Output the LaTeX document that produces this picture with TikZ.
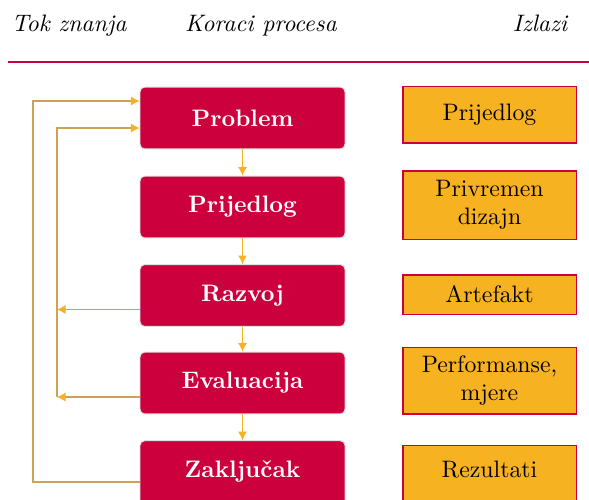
\documentclass[tikz,border=0pt]{standalone}
\usetikzlibrary{arrows.meta,calc}
\definecolor{krimson}{RGB}{204,0,61}
\definecolor{zlatna}{RGB}{246,178,33}
\definecolor{smeda}{RGB}{205,162,80}
\tikzset{
	korak/.style={rectangle,rounded corners=2pt,draw=black!12,fill=krimson,text=white,font=\bfseries,minimum width=86.1pt,minimum height=26pt,inner sep=0pt},
	izlaz/.style={rectangle,draw=krimson,line width=0.45pt,fill=zlatna,text=black,align=center,minimum width=72.7pt,inner sep=0pt},
	tok/.style={draw=zlatna,line width=0.5pt,-{Latex[length=3.6pt,width=3.8pt]}},
	nazad/.style={draw=smeda,line width=0.45pt,-{Latex[length=3.6pt,width=3.8pt,color=zlatna]}},
	naslov/.style={anchor=base,font=\itshape}
}
\begin{document}
\begin{tikzpicture}[x=0.42pt,y=-0.42pt]
	\useasboundingbox (0,0) rectangle (589,499);
	% zaglavlje
	\node[naslov] (hTok) at (69,31) {Tok znanja};
	\node[naslov] (hKoraci) at (261,31) {Koraci procesa};
	\node[naslov] (hIzlazi) at (540,31) {Izlazi};
	\draw[krimson,line width=0.9pt] (8,62) -- (589,62);
	% koraci
	\node[korak] (prob) at (242.5,118) {Problem};
	\node[korak] (prij) at (242.5,207) {Prijedlog};
	\node[korak] (razv) at (242.5,295.5) {Razvoj};
	\node[korak] (eval) at (242.5,383) {Evaluacija};
	\node[korak,minimum height=28pt,text depth=4pt] (zakl) at (242.5,474) {Zaklju\v{c}ak};
	% izlazi
	\node[izlaz,minimum height=23.9pt] (oPrij) at (489.5,114.5) {Prijedlog};
	\node[izlaz,minimum height=28.6pt] (oDiz) at (489.5,205) {Privremen\\dizajn};
	\node[izlaz,minimum height=16.4pt] (oArt) at (489.5,294.5) {Artefakt};
	\node[izlaz,minimum height=28.1pt] (oPerf) at (489.5,380.5) {Performanse,\\mjere};
	\node[izlaz,minimum height=25pt,text depth=5pt] (oRez) at (489.5,475) {Rezultati};
	% strelice
	\draw[tok] (prob) -- (prij);
	\draw[tok] (prij) -- (razv);
	\draw[tok] (razv) -- (eval);
	\draw[tok] (eval) -- (zakl);
	% povratne veze
	\coordinate (vanj) at (33,482);
	\coordinate (unut) at (57,397);
	\draw[nazad] ($(zakl.west)+(0,8)$) -- (vanj) |- ($(prob.west)+(0,-17)$);
	\draw[nazad] (unut) |- ($(prob.west)+(0,10)$);
	\draw[nazad] ($(razv.west)+(0,14)$) -- ($(unut |- razv.west)+(0,14)$);
	\draw[nazad] ($(eval.west)+(0,14)$) -- (unut);
\end{tikzpicture}
\end{document}
